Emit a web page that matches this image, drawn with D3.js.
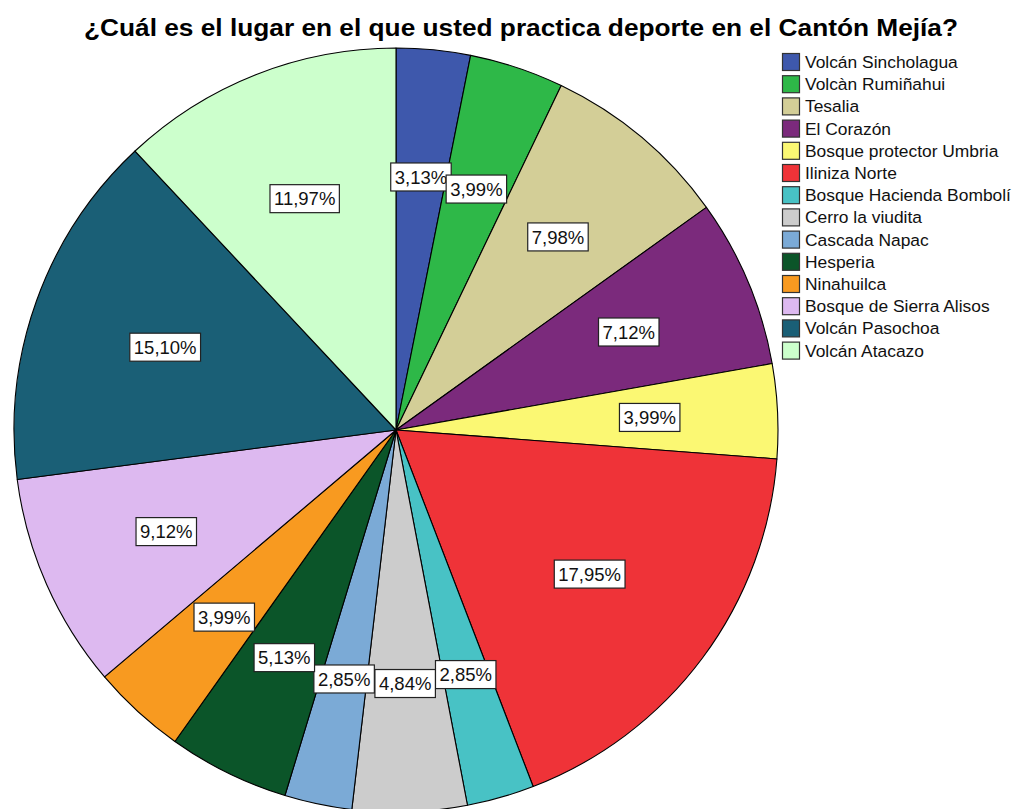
<!DOCTYPE html>
<html>
<head>
<meta charset="utf-8">
<script src="https://cdn.jsdelivr.net/npm/d3@7/dist/d3.min.js"></script>
<style>
  html, body { margin: 0; padding: 0; background: #fff; }
  svg { display: block; font-family: "Liberation Sans", Arial, sans-serif; }
</style>
</head>
<body>
<svg id="chart" width="1014" height="809"></svg>
<script>
const title = "¿Cuál es el lugar en el que usted practica deporte en el Cantón Mejía?";
const categories = [
  "Volcán Sincholagua", "Volcàn Rumiñahui", "Tesalia", "El Corazón",
  "Bosque protector Umbria", "Iliniza Norte", "Bosque Hacienda Bombolí",
  "Cerro la viudita", "Cascada Napac", "Hesperia", "Ninahuilca",
  "Bosque de Sierra Alisos", "Volcán Pasochoa", "Volcán Atacazo"
];
const percents = [3.13, 3.99, 7.98, 7.12, 3.99, 17.95, 2.85, 4.84, 2.85, 5.13, 3.99, 9.12, 15.10, 11.97];
const colors = [
  "#3E58AC", "#2EB848", "#D3CE97", "#7B2A7C", "#FBF873", "#EF3338", "#48C2C5",
  "#CCCCCC", "#7BAAD6", "#0B5529", "#F89A20", "#DDB9F0", "#1A5F76", "#CCFFCC"
];

const data = categories.map((c, i) => ({ name: c, value: percents[i], color: colors[i] }));

const svg = d3.select("#chart");
const cx = 396, cy = 430, R = 382;

svg.append("text")
  .attr("x", 521).attr("y", 36)
  .attr("text-anchor", "middle")
  .attr("font-size", 23.5).attr("font-weight", "bold")
  .attr("textLength", 874).attr("lengthAdjust", "spacingAndGlyphs")
  .attr("fill", "#000")
  .text(title);

const pie = d3.pie().sort(null).value(d => d.value);
const arc = d3.arc().innerRadius(0).outerRadius(R);
const arcs = pie(data);

const g = svg.append("g").attr("transform", `translate(${cx},${cy})`);
g.selectAll("path.slice").data(arcs).enter().append("path")
  .attr("class", "slice")
  .attr("d", arc)
  .attr("fill", d => d.data.color)
  .attr("stroke", "#000").attr("stroke-width", 1.1)
  .attr("stroke-linejoin", "round");

// label at the geometric centroid of each sector
function sectorCentroid(d) {
  const a = (d.endAngle - d.startAngle) / 2;
  const r = a > 1e-6 ? 2 * R * Math.sin(a) / (3 * a) : 2 * R / 3;
  const m = (d.startAngle + d.endAngle) / 2;
  return [r * Math.sin(m), -r * Math.cos(m)];
}

const fmt = v => v.toFixed(2).replace(".", ",") + "%";
const lab = g.selectAll("g.lab").data(arcs).enter().append("g")
  .attr("class", "lab")
  .attr("transform", d => `translate(${sectorCentroid(d)})`);
lab.each(function(d) {
  const s = d3.select(this);
  const t = s.append("text")
    .attr("text-anchor", "middle").attr("dy", "0.36em")
    .attr("font-size", 18.5).attr("fill", "#111")
    .text(fmt(d.data.value));
  const w = t.node().getComputedTextLength() + 8;
  s.insert("rect", "text")
    .attr("x", -w / 2).attr("y", -14).attr("width", w).attr("height", 28)
    .attr("fill", "#fff").attr("stroke", "#222").attr("stroke-width", 1.2);
});

const leg = svg.append("g").attr("transform", "translate(782,53)");
const yLeg = d3.scaleBand().domain(categories).range([0, 22.2 * categories.length]);
const item = leg.selectAll("g.item").data(data).enter().append("g")
  .attr("class", "item")
  .attr("transform", d => `translate(0,${yLeg(d.name)})`);
item.append("rect")
  .attr("x", 0.5).attr("y", 0.5).attr("width", 17).attr("height", 17)
  .attr("fill", d => d.color).attr("stroke", "#333").attr("stroke-width", 1.2);
item.append("text")
  .attr("x", 23).attr("y", 9).attr("dy", "0.35em")
  .attr("font-size", 17.4).attr("fill", "#111")
  .text(d => d.name);
</script>
</body>
</html>
